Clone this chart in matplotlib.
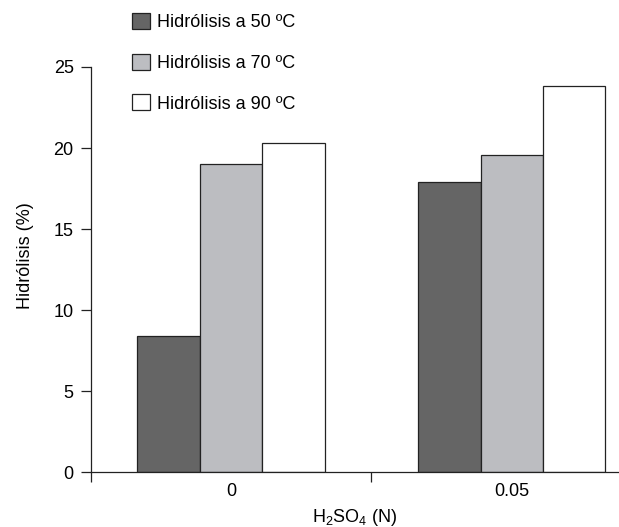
import numpy as np
import matplotlib
matplotlib.use('Agg')
from matplotlib import pyplot as plt
from matplotlib.patches import Patch

plt.rcParams['font.family'] = ['Liberation Sans', 'DejaVu Sans']

# ── Data ──────────────────────────────────────────────────────────────────────
acid_conc = ['0', '0.05']                      # H2SO4 (N)
series    = ['Hidrólisis a 50 ºC', 'Hidrólisis a 70 ºC', 'Hidrólisis a 90 ºC']
hyd_50    = [8.4, 17.9]
hyd_70    = [19.0, 19.6]
hyd_90    = [20.3, 23.8]
y_ticks   = [0, 5, 10, 15, 20, 25]

colors = ['#656565', '#bcbdc1', '#ffffff']
edge   = '#222222'
FS     = 13

# ── Plot ──────────────────────────────────────────────────────────────────────
fig = plt.figure(figsize=(6.19, 5.27), dpi=100)
ax = fig.add_axes([0.1465, 0.1038, 0.8535, 0.7691])

x = np.arange(len(acid_conc))
w = 0.2224
for i, (vals, c) in enumerate(zip([hyd_50, hyd_70, hyd_90], colors)):
    ax.bar(x + (i - 1) * w, vals, width=w, color=c, edgecolor=edge,
           linewidth=0.9, zorder=2)

ax.set_xlim(-0.5, 1.382)
ax.set_ylim(0, 25)
ax.set_yticks(y_ticks)
ax.set_xticks(x)
ax.set_xticklabels(acid_conc)
ax.set_xticks([-0.5, 0.5], minor=True)

for s in ['top', 'right']:
    ax.spines[s].set_visible(False)
for s in ['left', 'bottom']:
    ax.spines[s].set_color(edge)
    ax.spines[s].set_linewidth(0.9)

ax.tick_params(axis='y', direction='out', length=7.2, width=0.9, pad=5,
               labelsize=FS, color=edge)
ax.tick_params(axis='x', which='major', length=0, pad=8, labelsize=FS)
ax.tick_params(axis='x', which='minor', direction='out', length=7.2,
               width=0.9, color=edge)

ax.set_ylabel('Hidrólisis (%)', fontsize=FS)
ax.yaxis.set_label_coords(-0.108, 0.535)
ax.set_xlabel(r'$\mathregular{H_2SO_4}$ (N)', fontsize=FS, labelpad=5)

handles = [Patch(facecolor=c, edgecolor=edge, linewidth=0.9) for c in colors]
fig.legend(handles, series, loc='upper left',
           bbox_to_anchor=(132 / 619, 1 - 13 / 527),
           frameon=False, fontsize=FS, borderpad=0, borderaxespad=0,
           handlelength=0.98, handleheight=0.98, handletextpad=0.4,
           labelspacing=1.25)

plt.savefig('out.png', dpi=100)
